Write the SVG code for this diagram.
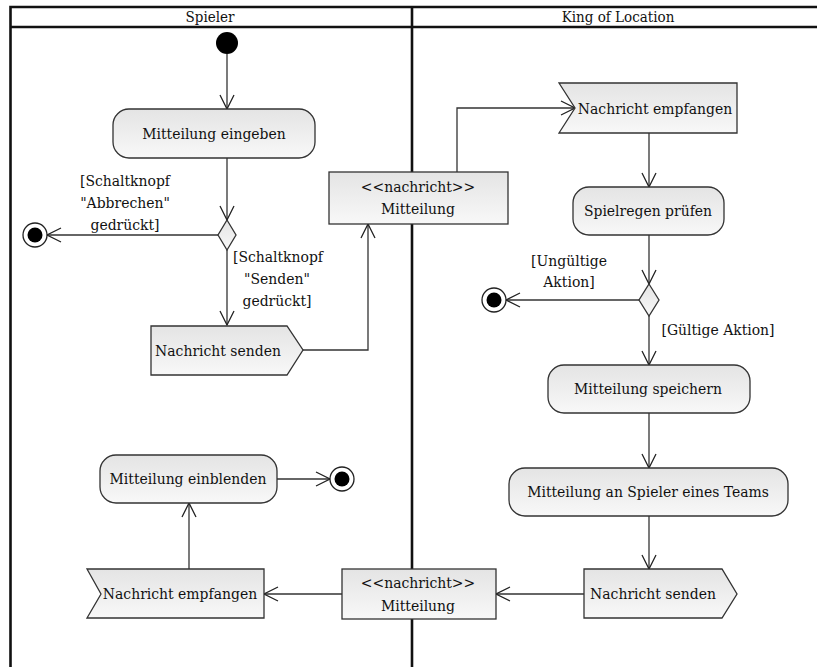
<svg xmlns="http://www.w3.org/2000/svg" width="817" height="667" viewBox="0 0 817 667">
  <defs>
    <linearGradient id="fill" x1="0" y1="0" x2="0" y2="1">
      <stop offset="0" stop-color="#e4e4e4"/>
      <stop offset="1" stop-color="#f8f8f8"/>
    </linearGradient>
    <marker id="open" viewBox="0 0 16 16" refX="15" refY="8" markerWidth="16" markerHeight="16" markerUnits="userSpaceOnUse" orient="auto">
      <path d="M1,1 L15,8 L1,15" fill="none" stroke="#222" stroke-width="1.3"/>
    </marker>
  </defs>
  <style>
    text { font-family: "DejaVu Serif Condensed", "DejaVu Serif", serif; font-size: 15.5px; fill: #111; }
    .c { text-anchor: middle; }
    .node { fill: url(#fill); stroke: #333; stroke-width: 1.3; }
    .flow { fill: none; stroke: #333; stroke-width: 1.3; marker-end: url(#open); }
    .lane { fill: none; stroke: #111; stroke-width: 2.6; }
    .dot { fill: #000; }
    .ring { fill: #fff; stroke: #222; stroke-width: 1.3; }
  </style>
  <rect width="817" height="667" fill="#fff"/>

  <!-- swimlanes -->
  <g id="lanes">
    <path class="lane" d="M820,7 H10.5 V667 M10.5,27 H820 M412,7 V667"/>
    <text class="c" x="210" y="22" style="font-size:15px">Spieler</text>
    <text class="c" x="618" y="22" style="font-size:15px">King of Location</text>
  </g>

  <!-- connectors -->
  <g id="connectors">
    <path class="flow" d="M227,54 V109"/>
    <path class="flow" d="M227,158 V220"/>
    <path class="flow" d="M218,235 H47"/>
    <path class="flow" d="M227,250 V325"/>
    <path class="flow" d="M303,350 H368 V224"/>
    <path class="flow" d="M457,172 V108 H575"/>
    <path class="flow" d="M649,133 V187"/>
    <path class="flow" d="M649,235 V284"/>
    <path class="flow" d="M639,300 H506"/>
    <path class="flow" d="M649,316 V365"/>
    <path class="flow" d="M649,413 V468"/>
    <path class="flow" d="M649,516 V569"/>
    <path class="flow" d="M584,594 H496"/>
    <path class="flow" d="M342,594 H264"/>
    <path class="flow" d="M189,569 V503"/>
    <path class="flow" d="M277,479 H330"/>
    <text class="c" x="125" y="186">[Schaltknopf</text>
    <text class="c" x="125" y="208">"Abbrechen"</text>
    <text class="c" x="125" y="230">gedrückt]</text>
    <text class="c" x="278" y="262">[Schaltknopf</text>
    <text class="c" x="277" y="284">"Senden"</text>
    <text class="c" x="277" y="306">gedrückt]</text>
    <text class="c" x="569" y="266">[Ungültige</text>
    <text class="c" x="569" y="287">Aktion]</text>
    <text class="c" x="718" y="335">[Gültige Aktion]</text>
  </g>

  <g id="start">
    <circle class="dot" cx="227" cy="43" r="11"/>
  </g>

  <g id="mitteilung-eingeben">
    <rect class="node" x="113" y="109" width="202" height="49" rx="16"/>
    <text class="c" x="214" y="139">Mitteilung eingeben</text>
  </g>

  <g id="decision-senden">
    <path class="node" d="M227,220 L236,235 L227,250 L218,235 Z"/>
  </g>

  <g id="end-abbrechen">
    <circle class="ring" cx="35" cy="235" r="12"/>
    <circle class="dot" cx="35" cy="235" r="7.5"/>
  </g>

  <g id="nachricht-senden-spieler">
    <path class="node" d="M151,326 H287 L303,350 L287,375 H151 Z"/>
    <text class="c" x="218" y="356">Nachricht senden</text>
  </g>

  <g id="objekt-mitteilung-1">
    <rect class="node" x="329" y="172" width="179" height="52"/>
    <text class="c" x="418" y="192">&lt;&lt;nachricht&gt;&gt;</text>
    <text class="c" x="418" y="214">Mitteilung</text>
  </g>

  <g id="nachricht-empfangen-king">
    <path class="node" d="M559,83 H737 V133 H559 L575,108 Z"/>
    <text class="c" x="655" y="114">Nachricht empfangen</text>
  </g>

  <g id="spielregen-pruefen">
    <rect class="node" x="573" y="187" width="151" height="48" rx="16"/>
    <text class="c" x="648" y="216">Spielregen prüfen</text>
  </g>

  <g id="decision-aktion">
    <path class="node" d="M649,284 L659,300 L649,316 L639,300 Z"/>
  </g>

  <g id="end-ungueltig">
    <circle class="ring" cx="494" cy="300" r="12"/>
    <circle class="dot" cx="494" cy="300" r="7.5"/>
  </g>

  <g id="mitteilung-speichern">
    <rect class="node" x="548" y="365" width="202" height="48" rx="16"/>
    <text class="c" x="648" y="394">Mitteilung speichern</text>
  </g>

  <g id="mitteilung-an-spieler">
    <rect class="node" x="509" y="468" width="279" height="48" rx="16"/>
    <text class="c" x="648" y="497">Mitteilung an Spieler eines Teams</text>
  </g>

  <g id="nachricht-senden-king">
    <path class="node" d="M584,569 H722 L737,594 L722,618 H584 Z"/>
    <text class="c" x="653" y="599">Nachricht senden</text>
  </g>

  <g id="objekt-mitteilung-2">
    <rect class="node" x="342" y="569" width="154" height="50"/>
    <text class="c" x="418" y="588">&lt;&lt;nachricht&gt;&gt;</text>
    <text class="c" x="418" y="611">Mitteilung</text>
  </g>

  <g id="nachricht-empfangen-spieler">
    <path class="node" d="M87,569 H264 V618 H87 L101,594 Z"/>
    <text class="c" x="180" y="599">Nachricht empfangen</text>
  </g>

  <g id="mitteilung-einblenden">
    <rect class="node" x="100" y="455" width="177" height="48" rx="16"/>
    <text class="c" x="188" y="484">Mitteilung einblenden</text>
  </g>

  <g id="end-einblenden">
    <circle class="ring" cx="342" cy="479" r="12"/>
    <circle class="dot" cx="342" cy="479" r="7.5"/>
  </g>
</svg>
